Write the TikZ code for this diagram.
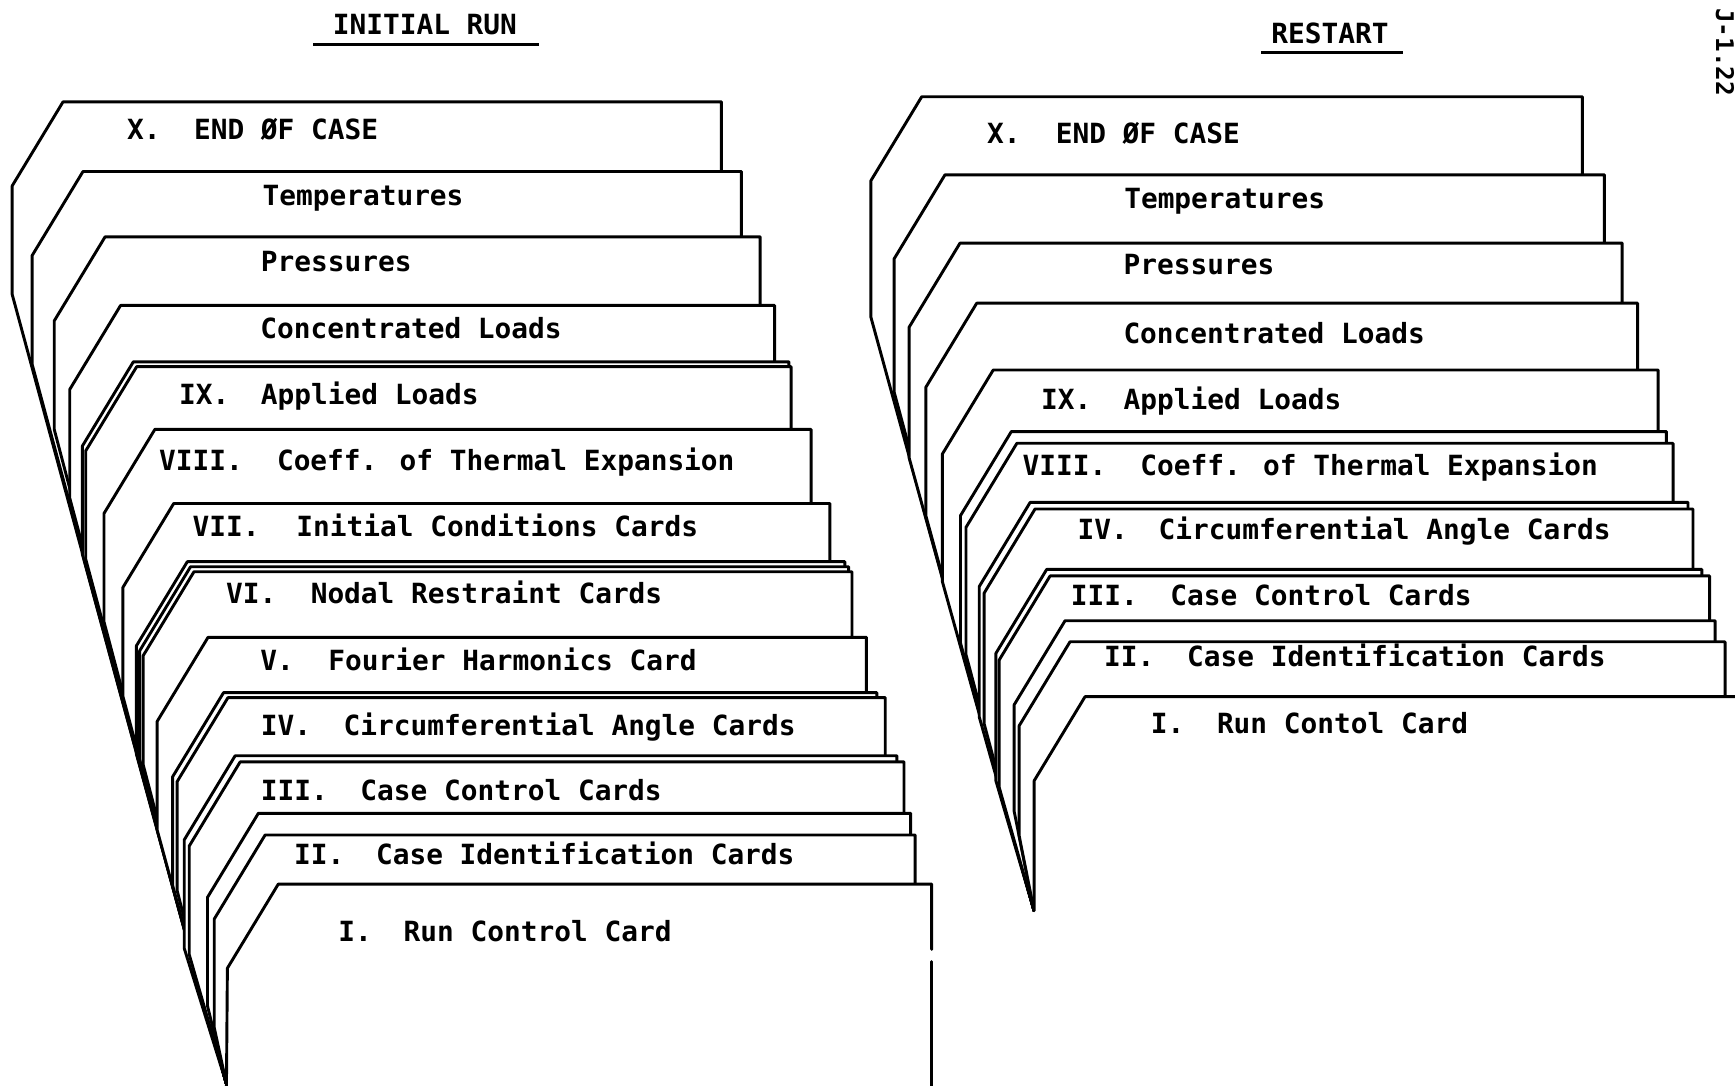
\documentclass[tikz,border=0pt]{standalone}
\usepackage{fontspec}
\newfontfamily\tw{DejaVu Sans Mono}
\newcommand\cardshape[6]{% #1 xt, #2 yT, #3 xr, #4 v, #5 apex x, #6 apex y
  \fill[white] (#5,#6) -- ({#1-46},{#2+76+#4}) -- ({#1-46},{#2+76}) -- (#1,#2) -- (#3,#2) -- (#3,1000) -- (#5,1000) -- cycle;
  \draw[cardline] (#5,#6) -- ({#1-46},{#2+76+#4}) -- ({#1-46},{#2+76}) -- (#1,#2) -- (#3,#2) -- (#3,1000);
}
\begin{document}
\begin{tikzpicture}[x=0.02cm,y=-0.02cm,
  cardline/.style={line width=1.5pt, line join=round, line cap=round},
  txt/.style={font=\tw\bfseries\fontsize{14.3}{16}\selectfont, anchor=base west, inner sep=0pt},
  ttl/.style={font=\tw\bfseries\fontsize{14.3}{16}\selectfont, anchor=base, inner sep=0pt},
  rot/.style={font=\tw\bfseries\fontsize{12.5}{14}\selectfont, anchor=base west, inner sep=0pt, rotate=-90}]
\useasboundingbox (0,0) rectangle (1568,981);
\fill[white] (0,0) rectangle (1568,981);
\begin{scope}
\clip (0,0) rectangle (1568,981);
% ---------------- INITIAL RUN deck (back to front)
\cardshape{57}{92}{652}{98}{204.5}{979}
\cardshape{75}{155}{670}{98}{204.5}{979}
\cardshape{95}{214}{687}{98}{204.5}{979}
\cardshape{109}{276}{700}{98}{204.5}{979}
\cardshape{120.5}{327}{713}{98}{204.5}{979}
\cardshape{123.5}{331.4}{715}{98}{204.5}{979}
\cardshape{140}{388}{733}{98}{204.5}{979}
\cardshape{157}{455}{750}{98}{204.5}{979}
\cardshape{169.3}{507.6}{763.6}{98}{204.5}{979}
\cardshape{172.2}{512.2}{767}{98}{204.5}{979}
\cardshape{175.3}{516.7}{770}{98}{204.5}{979}
\cardshape{188}{576}{783}{98}{204.5}{979}
\cardshape{202}{626}{792.5}{98}{204.5}{979}
\cardshape{206}{630.5}{800}{98}{204.5}{979}
\cardshape{212.5}{683}{810.6}{98}{204.5}{979}
\cardshape{217}{688.6}{817}{98}{204.5}{979}
\cardshape{233.5}{735}{823}{98}{204.5}{979}
\cardshape{239.6}{754.6}{827}{98}{204.5}{979}
% front card I with a break in its right edge
\fill[white] (204.5,979) -- (205.5,875) -- (251.5,799) -- (842,799) -- (842,1000) -- (204.5,1000) -- cycle;
\draw[cardline] (204.5,1000) -- (205.5,875) -- (251.5,799) -- (842,799) -- (842,858);
\draw[cardline] (842,869) -- (842,1000);
% ---------------- RESTART deck
\cardshape{833}{87.4}{1430}{123}{934.5}{823}
\cardshape{854}{158}{1450}{120}{934.5}{823}
\cardshape{867.6}{219.7}{1466}{118}{934.5}{823}
\cardshape{882.7}{274}{1480}{116}{934.5}{823}
\cardshape{897.6}{334.4}{1498.5}{115}{934.5}{823}
\cardshape{914}{390}{1506}{115}{934.5}{823}
\cardshape{919}{400.6}{1512}{115}{934.5}{823}
\cardshape{931}{454}{1525.5}{118}{934.5}{823}
\cardshape{935.4}{460}{1530}{118}{934.5}{823}
\cardshape{946}{514.5}{1538}{115}{934.5}{823}
\cardshape{949}{520.5}{1545}{115}{934.5}{823}
\cardshape{962.5}{561}{1550}{96}{934.5}{823}
\cardshape{967}{580}{1559}{99}{934.5}{823}
\cardshape{980.6}{629.6}{1600}{117.4}{934.5}{823}
\end{scope}
% ---------------- titles
\node[ttl] (t1) at (384,31) {INITIAL RUN};
\draw[line width=1.4pt] (283,40) -- (487,40);
\node[ttl] (t2) at (1202,39) {RESTART};
\draw[line width=1.4pt] (1140,47.5) -- (1268,47.5);
\node[rot] (pg) at (1551,7) {J-1.22};
% ---------------- INITIAL RUN labels
\node[txt] (a10n) at (114.5,126.5) {X.};
\node[txt] (a10) at (175,126.5) {END ØF CASE};
\node[txt] (atp) at (237,185.3) {Temperatures};
\node[txt] (apr) at (235.5,245.5) {Pressures};
\node[txt] (acl) at (235,305.7) {Concentrated Loads};
\node[txt] (a9n) at (161.5,366) {IX.};
\node[txt] (a9) at (235.5,366) {Applied Loads};
\node[txt] (a8n) at (143.5,424.8) {VIII.};
\node[txt] (a8) at (250,424.8) {Coeff. of Thermal Expansion};
\node[txt] (a7n) at (173.7,485) {VII.};
\node[txt] (a7) at (267.5,485) {Initial Conditions Cards};
\node[txt] (a6n) at (204,545.3) {VI.};
\node[txt] (a6) at (280.5,545.3) {Nodal Restraint Cards};
\node[txt] (a5n) at (235,605.5) {V.};
\node[txt] (a5) at (296.5,605.5) {Fourier Harmonics Card};
\node[txt] (a4n) at (235.5,664.3) {IV.};
\node[txt] (a4) at (310.3,664.3) {Circumferential Angle Cards};
\node[txt] (a3n) at (235.5,723) {III.};
\node[txt] (a3) at (325.4,723) {Case Control Cards};
\node[txt] (a2n) at (265.5,781.7) {II.};
\node[txt] (a2) at (339.5,781.7) {Case Identification Cards};
\node[txt] (a1n) at (305.5,851) {I.};
\node[txt] (a1) at (364.5,851) {Run Control Card};
% ---------------- RESTART labels
\node[txt] (b10n) at (891.7,129.5) {X.};
\node[txt] (b10) at (953.8,129.5) {END ØF CASE};
\node[txt] (btp) at (1015.7,188.3) {Temperatures};
\node[txt] (bpr) at (1015.2,248.5) {Pressures};
\node[txt] (bcl) at (1015,310.3) {Concentrated Loads};
\node[txt] (b9n) at (940.5,370.5) {IX.};
\node[txt] (b9) at (1015.2,370.5) {Applied Loads};
\node[txt] (b8n) at (923.8,429.3) {VIII.};
\node[txt] (b8) at (1030.3,429.3) {Coeff. of Thermal Expansion};
\node[txt] (b4n) at (973.5,488) {IV.};
\node[txt] (b4) at (1046.8,488) {Circumferential Angle Cards};
\node[txt] (b3n) at (967.5,546.8) {III.};
\node[txt] (b3) at (1057.4,546.8) {Case Control Cards};
\node[txt] (b2n) at (997.5,602.5) {II.};
\node[txt] (b2) at (1072.5,602.5) {Case Identification Cards};
\node[txt] (b1n) at (1039.8,662.7) {I.};
\node[txt] (b1) at (1099.5,662.7) {Run Contol Card};
\end{tikzpicture}
\end{document}
